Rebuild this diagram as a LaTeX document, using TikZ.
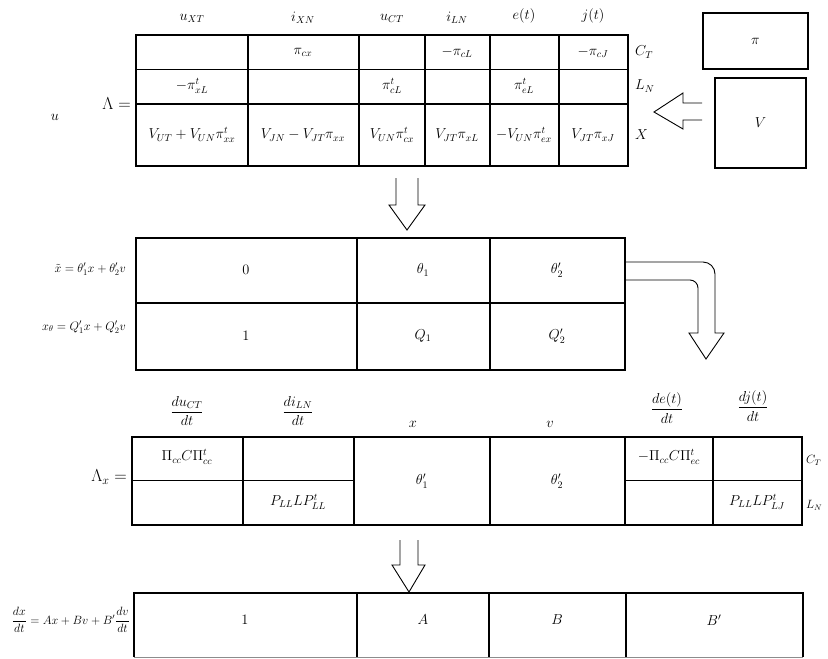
\documentclass[tikz,border=0pt]{standalone}
\usepackage{amsmath}
\usepackage{amssymb}
\usepackage{graphicx}
\usepackage{tikz}
\usetikzlibrary{
	arrows.meta,
	positioning,
	calc
}

\begin{document}
\begin{tikzpicture}[
			x=1pt, y=-1pt,
			font=\Large,
			ramka/.style={line width=1.8pt},
			setka/.style={line width=1.3pt},
			tonka/.style={line width=0.8pt},
			yach/.style={inner sep=1pt},
			melk/.style={inner sep=1pt, font=\large},
			metka/.style={inner sep=1pt, anchor=east},
			bloco/.style={draw, line width=1.3pt, inner sep=0pt},
			polaya/.style={line width=0.9pt, line join=miter}
		]
		\useasboundingbox (0,0) rectangle (828,659);

		% matrica Lambda
		\draw[ramka] (136,35) rectangle (628,166);
		\foreach \xx in {248,359,425,490,559} \draw[setka] (\xx,35) -- (\xx,166);
		\draw[tonka] (136,69) -- (628,69);
		\draw[ramka] (136,104) -- (628,104);

		\node[yach] (hux) at (192,18) {$u_{XT}$};
		\node[yach] (hix) at (303,18) {$i_{XN}$};
		\node[yach] (huc) at (392,18) {$u_{CT}$};
		\node[yach] (hil) at (457,18) {$i_{LN}$};
		\node[yach] (he) at (524,16) {$e(t)$};
		\node[yach] (hj) at (593,16) {$j(t)$};

		\node[yach] (a12) at (303,52) {$\pi_{cx}$};
		\node[yach] (a14) at (457,52) {$-\pi_{cL}$};
		\node[yach] (a16) at (593,52) {$-\pi_{cJ}$};
		\node[yach] (a21) at (192,86) {$-\pi^{t}_{xL}$};
		\node[yach] (a23) at (392,86) {$\pi^{t}_{cL}$};
		\node[yach] (a25) at (524,86) {$\pi^{t}_{eL}$};
		\node[yach] (a31) at (192,135) {$V_{UT}+V_{UN}\pi^{t}_{xx}$};
		\node[yach] (a32) at (303,135) {$V_{JN}-V_{JT}\pi_{xx}$};
		\node[yach] (a33) at (392,135) {$V_{UN}\pi^{t}_{cx}$};
		\node[yach] (a34) at (457,135) {$V_{JT}\pi_{xL}$};
		\node[yach] (a35) at (524,135) {$-V_{UN}\pi^{t}_{ex}$};
		\node[yach] (a36) at (593,135) {$V_{JT}\pi_{xJ}$};

		\node[yach, anchor=west] (rc) at (634,52) {$C_T$};
		\node[yach, anchor=west] (rl) at (634,86) {$L_N$};
		\node[yach, anchor=west] (rx) at (634,135) {$X$};

		\node[metka, font=\LARGE] (lam) at (132,104) {$\Lambda=$};
		\node[yach] (znak) at (55,117) {$u$};

		\node[bloco, minimum width=105pt, minimum height=56pt] (pibox) at (755.5,41) {$\pi$};
		\node[bloco, minimum width=91pt, minimum height=90pt] (vbox) at (760.5,123) {$V$};

		% strelka ot V
		\draw[polaya] (702,103) -- (683,103) -- (683,93) -- (654,112) -- (683,129) -- (683,120) -- (702,120);

		% strelka vniz 1
		\draw[polaya] (396,178) -- (396,205) -- (389,205) -- (407,230) -- (425,205) -- (418,205) -- (418,178);

		% matrica theta
		\draw[ramka] (136,238) rectangle (625,370);
		\foreach \xx in {357,490} \draw[setka] (\xx,238) -- (\xx,370);
		\draw[setka] (136,303) -- (625,303);

		\node[yach] (b11) at (246,270) {$0$};
		\node[yach] (b12) at (423,270) {$\theta_1$};
		\node[yach] (b13) at (557,270) {$\theta'_2$};
		\node[yach] (b21) at (246,336) {$1$};
		\node[yach] (b22) at (423,336) {$Q_1$};
		\node[yach] (b23) at (557,336) {$Q'_2$};
		\node[metka] (lxt) at (127,269) {\scalebox{0.85}{$\tilde{x}=\theta'_1x+\theta'_2v$}};
		\node[metka] (lxq) at (127,327) {\scalebox{0.85}{$x_\theta=Q'_1x+Q'_2v$}};

		% strelka s povorotom
		\draw[polaya] (625,262) -- (703,262) arc[start angle=-90, end angle=0, radius=12] -- (715,333) -- (724,333) -- (706,359) -- (689,333) -- (698,333) -- (698,288) arc[start angle=0, end angle=-90, radius=8] -- (625,280);

		% matrica Lambda_x
		\draw[ramka] (132,437) rectangle (802,525);
		\foreach \xx in {243,354,490,625,713} \draw[setka] (\xx,437) -- (\xx,525);
		\draw[tonka] (132,480) -- (354,480);
		\draw[tonka] (625,480) -- (802,480);

		\node[yach] (hdu) at (187,411) {$\dfrac{du_{CT}}{dt}$};
		\node[yach] (hdi) at (298,411) {$\dfrac{di_{LN}}{dt}$};
		\node[yach] (hx) at (413,424) {$x$};
		\node[yach] (hv) at (550,424) {$v$};
		\node[yach] (hde) at (667,408) {$\dfrac{de(t)}{dt}$};
		\node[yach] (hdj) at (753,406) {$\dfrac{dj(t)}{dt}$};

		\node[yach] (c11) at (187,457) {$\Pi_{cc}C\Pi^{t}_{cc}$};
		\node[yach] (c22) at (298,502) {$P_{LL}LP^{t}_{LL}$};
		\node[yach] (c3) at (422,481) {$\theta'_1$};
		\node[yach] (c4) at (557,481) {$\theta'_2$};
		\node[yach] (c15) at (669,457) {$-\Pi_{cc}C\Pi^{t}_{ec}$};
		\node[yach] (c26) at (757,502) {$P_{LL}LP^{t}_{LJ}$};

		\node[melk, anchor=west] (rc2) at (805,460) {$C_T$};
		\node[melk, anchor=west] (rl2) at (805,505) {$L_N$};
		\node[metka, font=\LARGE] (lamx) at (128,477) {$\Lambda_x=$};

		% strelka vniz 2
		\draw[polaya] (400,540) -- (400,565) -- (392,565) -- (409,592) -- (425,565) -- (418,565) -- (418,540);

		% matrica uravnenij
		\draw[ramka] (134,657) -- (134,593) -- (803,593) -- (803,657);
		\foreach \xx in {357,489,626} \draw[setka] (\xx,593) -- (\xx,657);
		\draw[tonka, black!45] (134,657) -- (803,657);

		\node[yach] (d1) at (245,620) {$1$};
		\node[yach] (d2) at (423,620) {$A$};
		\node[yach] (d3) at (557,620) {$B$};
		\node[yach] (d4) at (714,620) {$B'$};
		\node[metka, font=\large] (ldx) at (131,620) {$\dfrac{dx}{dt}=Ax+Bv+B'\dfrac{dv}{dt}$};
	\end{tikzpicture}
\end{document}
